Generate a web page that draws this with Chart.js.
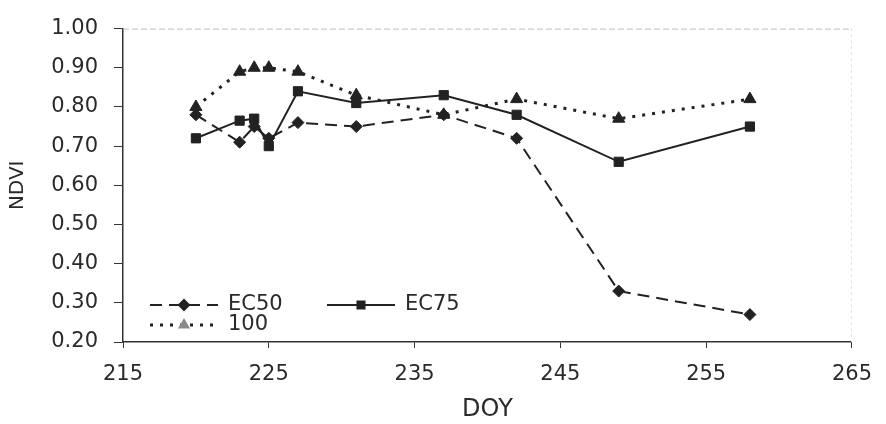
<!DOCTYPE html>
<html>
<head>
<meta charset="utf-8">
<script src="https://cdn.jsdelivr.net/npm/chart.js@4.4.1/dist/chart.umd.min.js"></script>
<style>
  html, body { margin: 0; padding: 0; background: #ffffff; }
  #wrap { width: 886px; height: 424px; position: relative; }
</style>
</head>
<body>
<div id="wrap"><canvas id="c" width="886" height="424"></canvas></div>
<script>
// ---- data ----
const doy   = [220, 223, 224, 225, 227, 231, 237, 242, 249, 258];
const ec50  = [0.78, 0.71, 0.75, 0.72, 0.76, 0.75, 0.78, 0.72, 0.33, 0.27];
const ec75  = [0.72, 0.765, 0.77, 0.70, 0.84, 0.81, 0.83, 0.78, 0.66, 0.75];
const t100  = [0.80, 0.89, 0.90, 0.90, 0.89, 0.83, 0.78, 0.82, 0.77, 0.82];
const seriesNames = ['EC50', 'EC75', '100'];
const xTitle = 'DOY';
const yTitle = 'NDVI';

const ink = '#222222';
const FONT = "'DejaVu Sans', sans-serif";

function pts(vals) { return doy.map((d, i) => ({ x: d, y: vals[i] })); }

const frame = {
  id: 'frame',
  beforeDatasetsDraw(chart) {
    const { ctx, chartArea: a } = chart;
    ctx.save();
    ctx.strokeStyle = '#bdbdbd';
    ctx.lineWidth = 1;
    ctx.setLineDash([6, 3]);
    ctx.beginPath();
    ctx.moveTo(a.left, a.top + 0.5);
    ctx.lineTo(a.right, a.top + 0.5);
    ctx.stroke();
    ctx.strokeStyle = '#d6d6d6';
    ctx.setLineDash([2, 4]);
    ctx.beginPath();
    ctx.moveTo(a.right - 0.5, a.top);
    ctx.lineTo(a.right - 0.5, a.bottom);
    ctx.stroke();
    ctx.restore();
  }
};

const legendPlugin = {
  id: 'customLegend',
  afterDraw(chart) {
    const { ctx, chartArea: a } = chart;
    const items = [
      { ds: 0, x: a.left + 27, y: a.bottom - 37 },
      { ds: 1, x: a.left + 204, y: a.bottom - 37 },
      { ds: 2, x: a.left + 27, y: a.bottom - 17 }
    ];
    ctx.save();
    items.forEach(it => {
      const ds = chart.data.datasets[it.ds];
      const len = 68;
      ctx.strokeStyle = ds.borderColor;
      ctx.lineWidth = ds.borderWidth;
      ctx.lineCap = ds.borderCapStyle || 'butt';
      ctx.setLineDash(ds.borderDash || []);
      ctx.beginPath();
      ctx.moveTo(it.x, it.y);
      ctx.lineTo(it.x + len, it.y);
      ctx.stroke();
      ctx.setLineDash([]);
      ctx.fillStyle = it.ds === 2 ? '#8a8a8a' : ds.pointBackgroundColor;
      ctx.strokeStyle = it.ds === 2 ? '#8a8a8a' : ds.pointBorderColor;
      Chart.helpers.drawPoint(ctx, {
        pointStyle: ds.pointStyle,
        radius: it.ds === 2 ? 4 : 5,
        rotation: 0,
        borderWidth: 1
      }, it.x + len / 2, it.y);
      ctx.fillStyle = '#2a2a2a';
      ctx.font = "21px " + FONT;
      ctx.textBaseline = 'middle';
      ctx.textAlign = 'left';
      ctx.fillText(ds.label, it.x + len + 10, it.y);
    });
    ctx.restore();
  }
};

new Chart(document.getElementById('c'), {
  type: 'line',
  data: {
    datasets: [
      {
        label: seriesNames[0], data: pts(ec50),
        borderColor: ink, backgroundColor: ink,
        pointBackgroundColor: ink, pointBorderColor: ink,
        borderWidth: 2, borderDash: [12, 7],
        pointStyle: 'rectRot', pointRadius: 6, pointBorderWidth: 1,
        tension: 0, fill: false
      },
      {
        label: seriesNames[1], data: pts(ec75),
        borderColor: ink, backgroundColor: ink,
        pointBackgroundColor: ink, pointBorderColor: ink,
        borderWidth: 2,
        pointStyle: 'rect', pointRadius: 6.5, pointBorderWidth: 1,
        tension: 0, fill: false
      },
      {
        label: seriesNames[2], data: pts(t100),
        borderColor: ink, backgroundColor: ink,
        pointBackgroundColor: ink, pointBorderColor: ink,
        borderWidth: 3, borderDash: [3, 7],
        pointStyle: 'triangle', pointRadius: 7, pointBorderWidth: 1,
        tension: 0, fill: false
      }
    ]
  },
  options: {
    responsive: false,
    animation: false,
    devicePixelRatio: 1,
    layout: { padding: { left: 0, right: 34, top: 15, bottom: 0 } },
    plugins: {
      legend: { display: false },
      tooltip: { enabled: false }
    },
    scales: {
      x: {
        type: 'linear',
        min: 215, max: 265,
        ticks: { stepSize: 10, color: '#2a2a2a', font: { family: FONT, size: 21 }, padding: 14, maxRotation: 0 },
        grid: { display: true, drawOnChartArea: false, tickLength: 6, color: '#333', lineWidth: 1 },
        border: { display: true, color: '#333', width: 1.5 },
        title: { display: true, text: xTitle, color: '#2a2a2a', font: { family: FONT, size: 24 }, padding: { top: 0, bottom: 0 } },
        afterFit(s) { s.height = 82; }
      },
      y: {
        type: 'linear',
        min: 0.2, max: 1.0,
        ticks: { stepSize: 0.1, color: '#2a2a2a', font: { family: FONT, size: 21 }, padding: 16,
          callback: v => Number(v).toFixed(2) },
        grid: { display: true, drawOnChartArea: false, tickLength: 9, color: '#333', lineWidth: 1 },
        border: { display: true, color: '#333', width: 1.5 },
        title: { display: true, text: yTitle, color: '#2a2a2a', font: { family: FONT, size: 20 }, padding: { top: 6, bottom: 0 } },
        afterFit(s) { s.width = 123; }
      }
    }
  },
  plugins: [frame, legendPlugin]
});
</script>
</body>
</html>
